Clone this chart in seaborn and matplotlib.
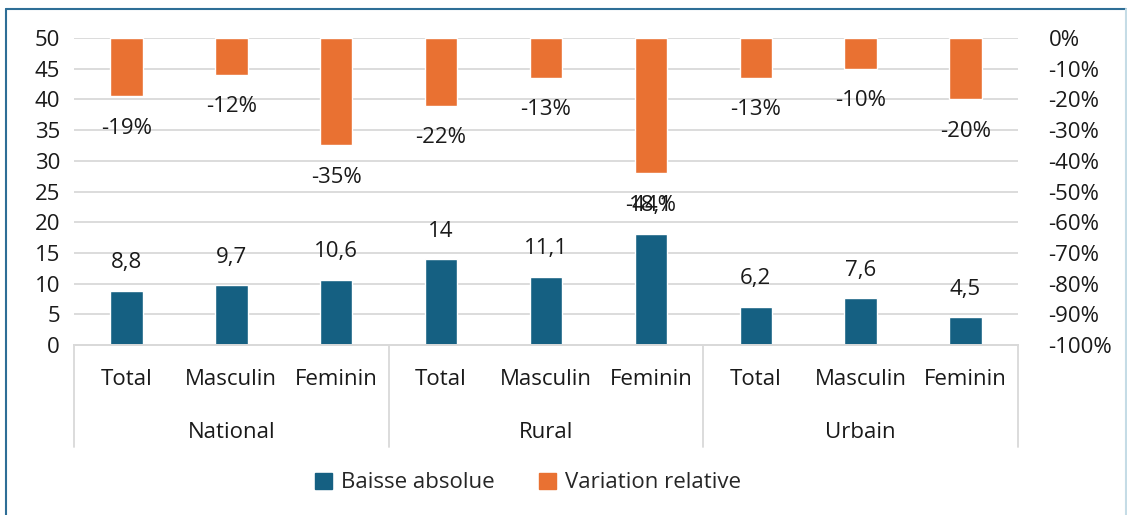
import pandas as pd
import seaborn as sns
import matplotlib.pyplot as plt
from matplotlib.lines import Line2D
from matplotlib.transforms import blended_transform_factory

groups = ["National", "Rural", "Urbain"]
sexes = ["Total", "Masculin", "Feminin"]
baisse = [8.8, 9.7, 10.6, 14, 11.1, 18.1, 6.2, 7.6, 4.5]
variation = [-0.19, -0.12, -0.35, -0.22, -0.13, -0.44, -0.13, -0.10, -0.20]

blue = "#156082"
orange = "#E97132"
grid = "#D9D9D9"
fs = 16

sns.set_theme(style="white")
plt.rcParams['font.family'] = ['Open Sans', 'DejaVu Sans']

df = pd.DataFrame({
    "groupe": [g for g in groups for s in sexes],
    "sexe": [s for g in groups for s in sexes],
    "baisse": baisse,
    "variation": variation,
})
df["cat"] = df["groupe"] + " " + df["sexe"]
order = list(df["cat"])

fig = plt.figure(figsize=(11.27, 5.15), dpi=100)
ax = fig.add_axes([74 / 1127, 1 - 345 / 515, (1018 - 74) / 1127, 307 / 515])
ax2 = ax.twinx()

sns.barplot(data=df, x="cat", y="baisse", order=order, color=blue, width=0.31,
            saturation=1, ax=ax)
sns.barplot(data=df, x="cat", y="variation", order=order, color=orange, width=0.31,
            saturation=1, ax=ax2)

ax.set_xlim(-0.5, len(order) - 0.5)
ax.set_ylim(0, 50)
ax.set_yticks(range(0, 51, 5))
ax2.set_ylim(-1, 0)
ax2.set_yticks([i / 10 for i in range(-10, 1)])
ax2.set_yticklabels([f"{int(round(v * 100))}%" for v in ax2.get_yticks()])

ax.set_axisbelow(True)
ax.yaxis.grid(True, color=grid, linewidth=1.3)
ax.set_xlabel("")
ax.set_ylabel("")
ax2.set_ylabel("")
ax2.set_xlabel("")
ax.set_xticks([])
for a in (ax, ax2):
    for side in ["top", "left", "right"]:
        a.spines[side].set_visible(False)
    a.spines["bottom"].set_color(grid)
    a.spines["bottom"].set_linewidth(1.3)
    a.tick_params(axis="both", length=0, labelsize=fs, colors="#1a1a1a")
ax.tick_params(axis="y", pad=10)
ax2.tick_params(axis="y", pad=22)
for lbl in ax2.get_yticklabels():
    lbl.set_horizontalalignment("left")

# value labels
for i, v in enumerate(baisse):
    txt = f"{v:g}".replace(".", ",")
    ax.annotate(txt, (i, v), xytext=(0, 28), textcoords="offset pixels",
                ha="center", va="center", fontsize=fs, color="#1a1a1a")
for i, v in enumerate(variation):
    ax2.annotate(f"{int(round(v * 100))}%", (i, v), xytext=(0, -32),
                 textcoords="offset pixels", ha="center", va="center",
                 fontsize=fs, color="#1a1a1a")

# two-level category axis
tr = blended_transform_factory(ax.transData, ax.transAxes)
for i, s in enumerate(df["sexe"]):
    ax.text(i, -0.113, s, transform=tr, ha="center", va="center",
            fontsize=fs, color="#1a1a1a")
for k, g in enumerate(groups):
    ax.text(k * 3 + 1, -0.285, g, transform=tr, ha="center", va="center",
            fontsize=fs, color="#1a1a1a")
for k in range(len(groups) + 1):
    x = k * 3 - 0.5
    ax.plot([x, x], [0, -0.332], transform=tr, color=grid, linewidth=1.3,
            clip_on=False)

handles = [plt.Rectangle((0, 0), 1, 1, color=blue),
           plt.Rectangle((0, 0), 1, 1, color=orange)]
fig.legend(handles, ["Baisse absolue", "Variation relative"], loc="center",
           bbox_to_anchor=(528 / 1127, 1 - 483 / 515), ncol=2, frameon=False,
           fontsize=fs, handlelength=0.75, handleheight=0.75,
           handletextpad=0.4, columnspacing=2.0)

# chart frame
fig.add_artist(Line2D([6 / 1127, 1126 / 1127], [1 - 9 / 515, 1 - 9 / 515],
                      color="#2E6E96", linewidth=1.5))
fig.add_artist(Line2D([6 / 1127, 6 / 1127], [0, 1 - 9 / 515],
                      color="#2E6E96", linewidth=1.5))
fig.add_artist(Line2D([1126 / 1127, 1126 / 1127], [0, 1 - 9 / 515],
                      color="#C5DCE6", linewidth=1.5))

fig.savefig("out.png", dpi=100)
